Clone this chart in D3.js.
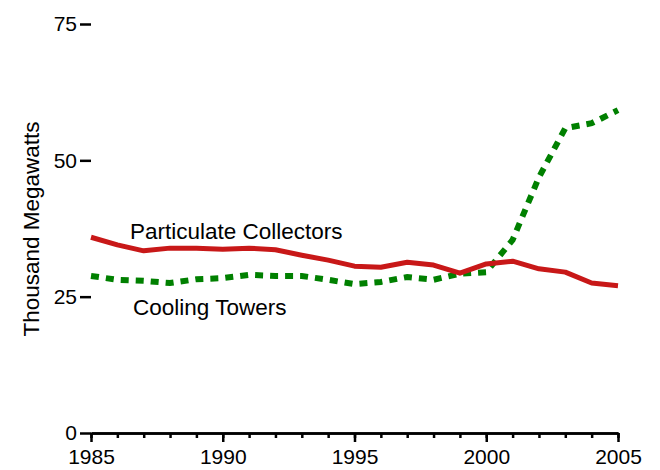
<!DOCTYPE html>
<html>
<head>
<meta charset="utf-8">
<script src="https://cdn.jsdelivr.net/npm/d3@7"></script>
<style>
  html, body { margin: 0; padding: 0; background: #fff; }
  svg { display: block; font-family: "Liberation Sans", Arial, sans-serif; }
</style>
</head>
<body>
<svg id="chart" width="660" height="470"></svg>
<script>
const years = d3.range(1985, 2006);
const particulateCollectors = [35.9, 34.5, 33.4, 33.9, 33.9, 33.7, 33.9, 33.6, 32.6, 31.7, 30.6, 30.4, 31.3, 30.8, 29.3, 31.0, 31.5, 30.1, 29.5, 27.5, 27.0];
const coolingTowers = [28.8, 28.1, 27.9, 27.5, 28.2, 28.4, 29.0, 28.8, 28.8, 28.1, 27.3, 27.7, 28.6, 28.1, 29.2, 29.5, 35.4, 46.9, 55.9, 56.8, 59.2];
const yTicks = [0, 25, 50, 75];
const xMajorTicks = [1985, 1990, 1995, 2000, 2005];
const yTitle = "Thousand Megawatts";
const seriesLabels = ["Particulate Collectors", "Cooling Towers"];

const svg = d3.select("#chart");
const x = d3.scaleLinear().domain([1985, 2005]).range([91, 618]);
const y = d3.scaleLinear().domain([0, 75]).range([433, 24]);

// X axis: minor ticks every year, major every 5
const xMinor = d3.axisBottom(x).tickValues(years).tickSize(5).tickFormat("").tickSizeOuter(0);
const gxm = svg.append("g").attr("transform", `translate(0,${y(0)})`).call(xMinor);
const xMajor = d3.axisBottom(x).tickValues(xMajorTicks).tickSize(9).tickPadding(7).tickFormat(d3.format("d")).tickSizeOuter(0);
const gx = svg.append("g").attr("transform", `translate(0,${y(0)})`).call(xMajor);
[gxm, gx].forEach(g => {
  g.select(".domain").attr("stroke", "#000").attr("stroke-width", 2.5);
  g.selectAll(".tick line").attr("stroke", "#000").attr("stroke-width", 2.5);
});
gx.selectAll(".tick text").attr("font-size", 21).attr("fill", "#000").attr("font-family", "Liberation Sans, Arial, sans-serif");

// Y axis: ticks only, no domain line
const yAxis = d3.axisLeft(y).tickValues(yTicks).tickSize(11).tickPadding(3).tickSizeOuter(0);
const gy = svg.append("g").attr("transform", `translate(${x(1985)},0)`).call(yAxis);
gy.select(".domain").remove();
gy.selectAll(".tick line").attr("stroke", "#000").attr("stroke-width", 2.5);
gy.selectAll(".tick text").attr("font-size", 21).attr("fill", "#000").attr("font-family", "Liberation Sans, Arial, sans-serif");

// Y title
svg.append("text")
  .attr("transform", `translate(39,229) rotate(-90)`)
  .attr("text-anchor", "middle")
  .attr("font-size", 22.5)
  .attr("fill", "#000")
  .text(yTitle);

const line = d3.line().x((d, i) => x(years[i])).y(d => y(d));

svg.append("path")
  .datum(coolingTowers)
  .attr("fill", "none")
  .attr("stroke", "#008000")
  .attr("stroke-width", 6)
  .attr("stroke-dasharray", "8,7")
  .attr("d", line);

svg.append("path")
  .datum(particulateCollectors)
  .attr("fill", "none")
  .attr("stroke", "#c81818")
  .attr("stroke-width", 5)
  .attr("stroke-linejoin", "round")
  .attr("d", line);

// Series labels
svg.append("text").attr("x", 130).attr("y", 239).attr("font-size", 22.5).attr("fill", "#000").text(seriesLabels[0]);
svg.append("text").attr("x", 133).attr("y", 315).attr("font-size", 22.5).attr("fill", "#000").text(seriesLabels[1]);
</script>
</body>
</html>
